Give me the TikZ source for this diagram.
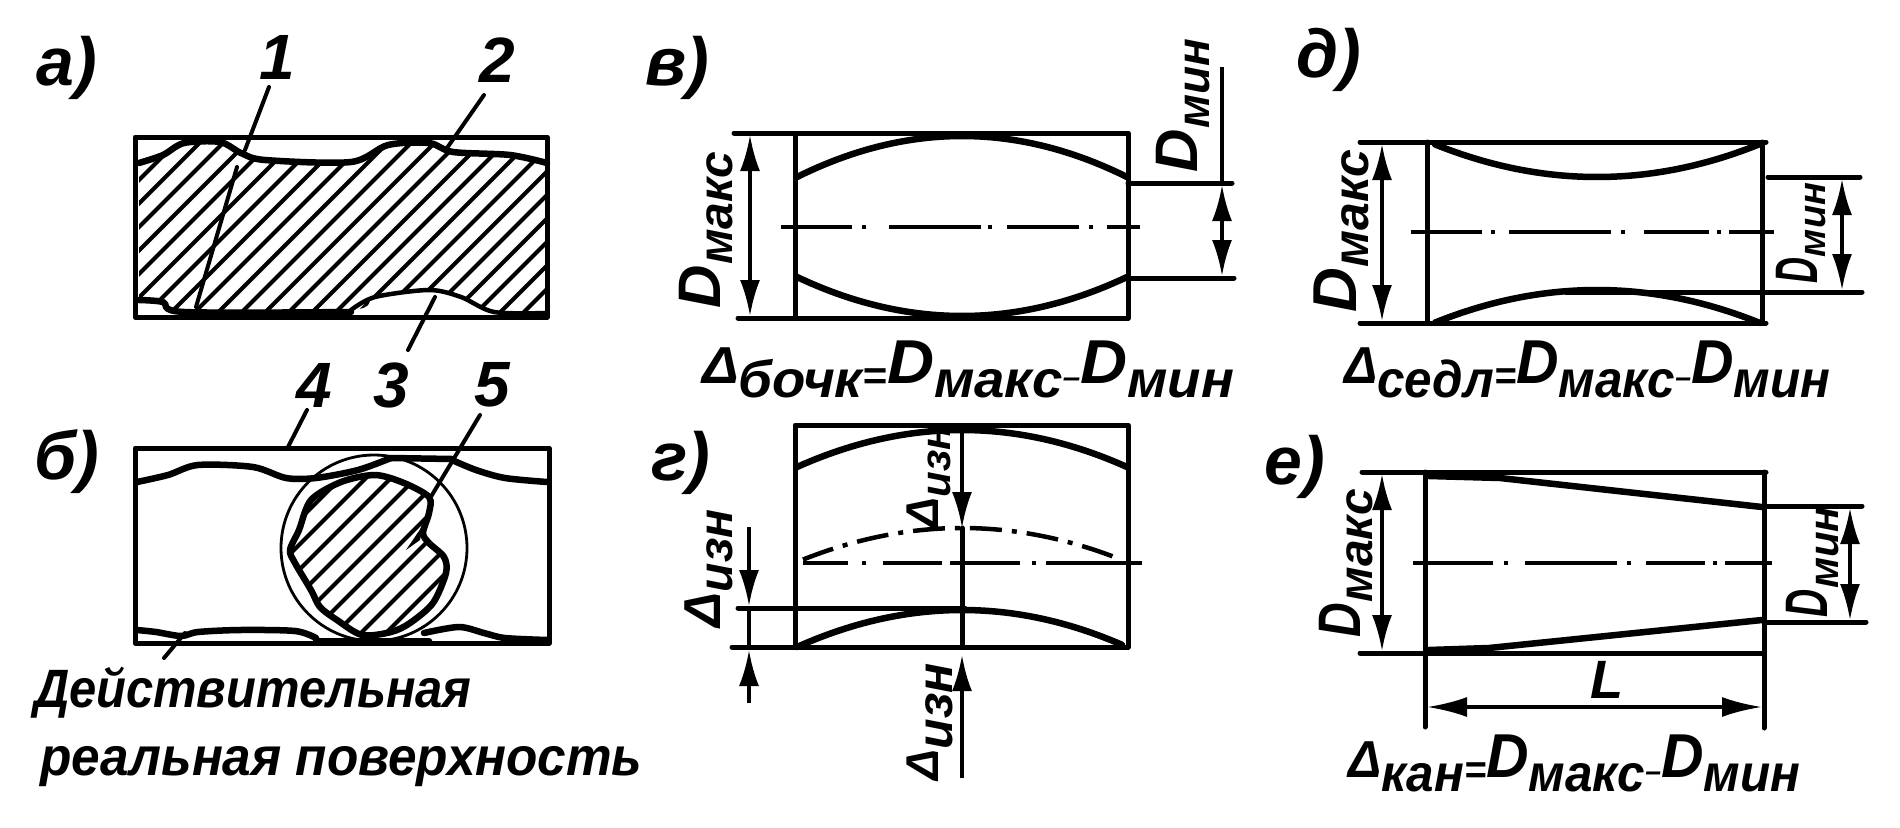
\documentclass[tikz,border=0pt]{standalone}
\usepackage{fontspec}
\setmainfont{Liberation Sans}
\usetikzlibrary{arrows.meta}
\newcommand{\dlab}[5][1]{\scalebox{#1}[1]{\fontsize{#2}{#2}\selectfont D}\raisebox{-#4pt}{\fontsize{#3}{#3}\selectfont #5}}
\newcommand{\dellab}[5][1]{\scalebox{#1}[1]{\fontsize{#2}{#2}\selectfont Δ}\raisebox{-#4pt}{\fontsize{#3}{#3}\selectfont #5}}
\newcommand{\fmla}[2]{\scalebox{#1}[1]{{\fontsize{52}{52}\selectfont Δ}\raisebox{-14pt}{\fontsize{52}{52}\selectfont #2}\raisebox{-6pt}{\fontsize{40}{40}\selectfont =}{\fontsize{62}{62}\selectfont D}\raisebox{-14pt}{\fontsize{52}{52}\selectfont макс}\raisebox{-4pt}{\fontsize{30}{30}\selectfont –}{\fontsize{62}{62}\selectfont D}\raisebox{-14pt}{\fontsize{52}{52}\selectfont мин}}}
\tikzset{
  txt/.style={inner sep=0pt,outer sep=0pt,anchor=base west,font=\bfseries\itshape},
  rot/.style={txt,rotate=90},
  plabel/.style={inner sep=0pt,font=\bfseries\itshape\fontsize{68}{68}\selectfont},
  numlabel/.style={inner sep=0pt,font=\bfseries\itshape\fontsize{64}{64}\selectfont},
  body/.style={line width=5pt,line cap=round,line join=round},
  thinl/.style={line width=3.6pt,line cap=round,line join=round},
  surf/.style={line width=6.5pt,line cap=round,line join=round},
  axisl/.style={line width=4.5pt},
  hatchl/.style={line width=4pt},
  dimboth/.style={line width=3.6pt,{Latex[length=36pt,width=20pt]}-{Latex[length=36pt,width=20pt]}},
  dimin/.style={line width=3.6pt,-{Latex[length=36pt,width=20pt]}},
}
\begin{document}
\begin{tikzpicture}[x=1pt,y=-1pt]
\useasboundingbox (0,0) rectangle (1900,827);
\fill[white] (0,0) rectangle (1900,827);
% ---------- a
\begin{scope}
\clip plot[smooth] coordinates {(139,163)(163,155)(184,143)(220,142)(241,153)(265,160)(351,162)(388,145)(429,143)(453,152)(510,155)(547,163)} -- plot[smooth] coordinates {(547,313)(494,312)(461,297)(429,290)(375,297)(351,310)(184,312)(163,302)(139,300)} -- cycle;
\foreach \k in {-10,...,16}{
  \pgfmathsetmacro{\c}{507+23.5*\k}
  \draw[hatchl] ({\c-330},330) -- ({\c-130},130);
}
\end{scope}
\draw[body] (135,137) rectangle (547,317);
\draw[surf] plot[smooth] coordinates {(139,163)(163,155)(184,143)(220,142)(241,153)(265,160)(351,162)(388,145)(429,143)(453,152)(510,155)(547,163)};
\draw[surf] plot[smooth] coordinates {(139,300)(163,302)(184,312)(351,312)};
\draw[thinl,line width=4.5pt] plot[smooth] coordinates {(351,310)(375,297)(429,290)(461,297)(494,312)(547,313)};
\draw[thinl,line width=4pt] (269,87) -- (245,150) (237,167) -- (196,307);
\draw[thinl,line width=4pt] (484,95) -- (447,148);
\draw[thinl,line width=4pt] (408,350) -- (435,297);
\node[plabel] (la) at (67,68) {а)};
\node[numlabel] (n1) at (277,57) {1};
\node[numlabel] (n2) at (497,60) {2};
\node[numlabel] (n3) at (391,385) {3};
\node[numlabel] (n4) at (314,385) {4};
\node[numlabel] (n5) at (492,385) {5};
% ---------- b
\begin{scope}
\clip plot[smooth cycle] coordinates {(375,475)(404,483)(429,497)(429,513)(423,533)(429,543)(444,557)(446,573)(433,603)(410,623)(391,632)(362,635)(337,620)(320,607)(311,590)(295,563)(290,550)(299,530)(311,500)(341,482)};
\foreach \k in {-10,...,5}{
  \pgfmathsetmacro{\c}{994+25*\k}
  \draw[hatchl] ({\c-700},700) -- ({\c-400},400);
}
\end{scope}
\draw[body] (135,448) rectangle (549,643);
\draw[line width=2.8pt] (374,548) circle[radius=93];
\draw[surf] plot[smooth] coordinates {(137,482)(168,475)(198,465)(253,467)(286,478)(316,478)(358,470)(391,458)};
\draw[surf] (391,458) -- (452,459);
\draw[surf] plot[smooth] coordinates {(452,460)(476,470)(505,478)(547,482)};
\draw[surf] plot[smooth] coordinates {(137,630)(156,632)(181,636)(198,632)(240,630)(295,631)(316,638)};
\draw[surf] (316,641) -- (429,641);
\draw[surf] plot[smooth] coordinates {(424,633)(459,627)(484,633)(505,638)(547,640)};
\draw[surf] plot[smooth cycle] coordinates {(375,475)(404,483)(429,497)(429,513)(423,533)(429,543)(444,557)(446,573)(433,603)(410,623)(391,632)(362,635)(337,620)(320,607)(311,590)(295,563)(290,550)(299,530)(311,500)(341,482)};
\fill (423,525) -- (406,550) -- (420,540) -- cycle;
\draw[thinl,line width=4pt] (307,410) -- (288,447);
\draw[thinl,line width=4pt] (480,415) -- (429,500);
\draw[thinl,line width=4pt] (164,658) -- (185,633);
\node[plabel] (lb) at (67,462) {б)};
\node[txt,font=\bfseries\itshape\fontsize{54}{54}\selectfont] (t1) at (34,707) {\scalebox{0.905}[1]{Действительная}};
\node[txt,font=\bfseries\itshape\fontsize{54}{54}\selectfont] (t2) at (40,775) {\scalebox{0.95}[1]{реальная поверхность}};
% ---------- v
\draw[body] (795,133) rectangle (1128,318);
\draw[body] (734,133) -- (795,133) (738,318) -- (795,318);
\draw[surf,domain=797:1127,samples=50] plot ({\x},{136+41*((\x-962)/165)^2});
\draw[surf,domain=797:1127,samples=50] plot ({\x},{316-39*((\x-962)/165)^2});
\draw[axisl] (781,227)--(852,227) (862,227)--(866,227) (889,227)--(981,227) (988,227)--(992,227) (1007,227)--(1079,227) (1089,227)--(1093,227) (1107,227)--(1140,227);
\draw[dimboth] (750,135) -- (750,316);
\draw[body] (1128,183) -- (1232,183) (1128,278) -- (1234,278);
\draw[line width=3.6pt] (1222,67) -- (1222,185);
\draw[dimboth] (1222,185) -- (1222,276);
\node[rot] (dm1) at (720,308) {\dlab{60}{48}{12}{макс}};
\node[rot] (dn1) at (1197,172) {\dlab{60}{46}{12}{мин}};
\node[plabel] (lv) at (677,68) {в)};
\node[txt] (f1) at (702,383) {\fmla{1.05}{бочк}};
% ---------- g
\draw[body] (795,425) rectangle (1128,647);
\draw[body] (732,647) -- (795,647) (738,608) -- (965,608);
\draw[surf,domain=797:1127,samples=50] plot ({\x},{430+37*((\x-962)/165)^2});
\draw[surf,domain=797:1122,samples=50] plot ({\x},{610+37*((\x-962)/165)^2});
\draw[axisl] (803,563)--(848,563) (862,563)--(866,563) (883,563)--(942,563) (950,563)--(1020,563) (1032,563)--(1036,563) (1046,563)--(1142,563);
\draw[line width=4.5pt,dash pattern=on 32pt off 10pt on 5pt off 10pt,domain=803:1118,samples=50] plot ({\x},{528+34*((\x-962)/165)^2});
\draw[body] (962,528) -- (962,647);
\draw[dimin] (962,425) -- (962,528);
\draw[dimin] (962,778) -- (962,655);
\draw[dimin] (749,527) -- (749,606);
\draw[line width=3.6pt] (749,608) -- (749,647);
\draw[dimin] (749,703) -- (749,650);
\node[rot] (de1) at (938,528) {\dellab{46}{42}{12}{изн}};
\node[rot] (de2) at (720,627) {\dellab{52}{48}{12}{изн}};
\node[rot] (de3) at (938,780) {\dellab{46}{50}{14}{изн}};
\node[plabel] (lg) at (681,463) {г)};
% ---------- d
\draw[body] (1427,142) -- (1427,323) (1762,142) -- (1762,323);
\draw[body] (1360,142) -- (1766,142) (1360,323) -- (1766,323);
\draw[surf,domain=1435:1760,samples=50] plot ({\x},{177-33*((\x-1597)/163)^2});
\draw[surf,domain=1435:1760,samples=50] plot ({\x},{290+33*((\x-1597)/163)^2});
\draw[body] (1768,177) -- (1860,177) (1566,292) -- (1862,292);
\draw[axisl] (1411,232)--(1482,232) (1491,232)--(1495,232) (1509,232)--(1611,232) (1621,232)--(1625,232) (1644,232)--(1709,232) (1717,232)--(1721,232) (1729,232)--(1774,232);
\draw[dimboth] (1382,144) -- (1382,321);
\draw[dimboth] (1842,179) -- (1842,290);
\node[rot] (dm2) at (1356,312) {\dlab{62}{50}{12}{макс}};
\node[rot] (dn2) at (1817,283) {\dlab[0.6]{60}{38}{8}{мин}};
\node[plabel] (ld) at (1329,60) {д)};
\node[txt] (f2) at (1344,383) {\fmla{0.95}{седл}};
% ---------- e
\draw[body] (1425,472) -- (1425,727) (1764,472) -- (1764,728);
\draw[body] (1362,472) -- (1766,472) (1360,653) -- (1764,653);
\draw[surf] (1429,476) -- (1500,478) -- (1762,507);
\draw[surf] (1429,650) -- (1489,648) -- (1762,620);
\draw[body] (1764,506) -- (1862,506) (1764,622) -- (1866,622);
\draw[axisl] (1413,563)--(1493,563) (1504,563)--(1508,563) (1525,563)--(1617,563) (1627,563)--(1631,563) (1646,563)--(1705,563) (1713,563)--(1717,563) (1725,563)--(1772,563);
\draw[dimboth] (1382,474) -- (1382,651);
\draw[dimboth] (1850,508) -- (1850,620);
\draw[line width=3.6pt,{Latex[length=40pt,width=20pt]}-{Latex[length=40pt,width=20pt]}] (1427,707) -- (1762,707);
\node[rot] (dm3) at (1360,637) {\dlab[0.8]{60}{48}{12}{макс}};
\node[rot] (dn3) at (1827,617) {\dlab[0.65]{60}{42}{11}{мин}};
\node[txt,font=\bfseries\itshape\fontsize{54}{54}\selectfont] (ll) at (1590,698) {L};
\node[plabel] (le) at (1295,467) {е)};
\node[txt] (f3) at (1348,777) {\fmla{0.95}{кан}};
\end{tikzpicture}
\end{document}
